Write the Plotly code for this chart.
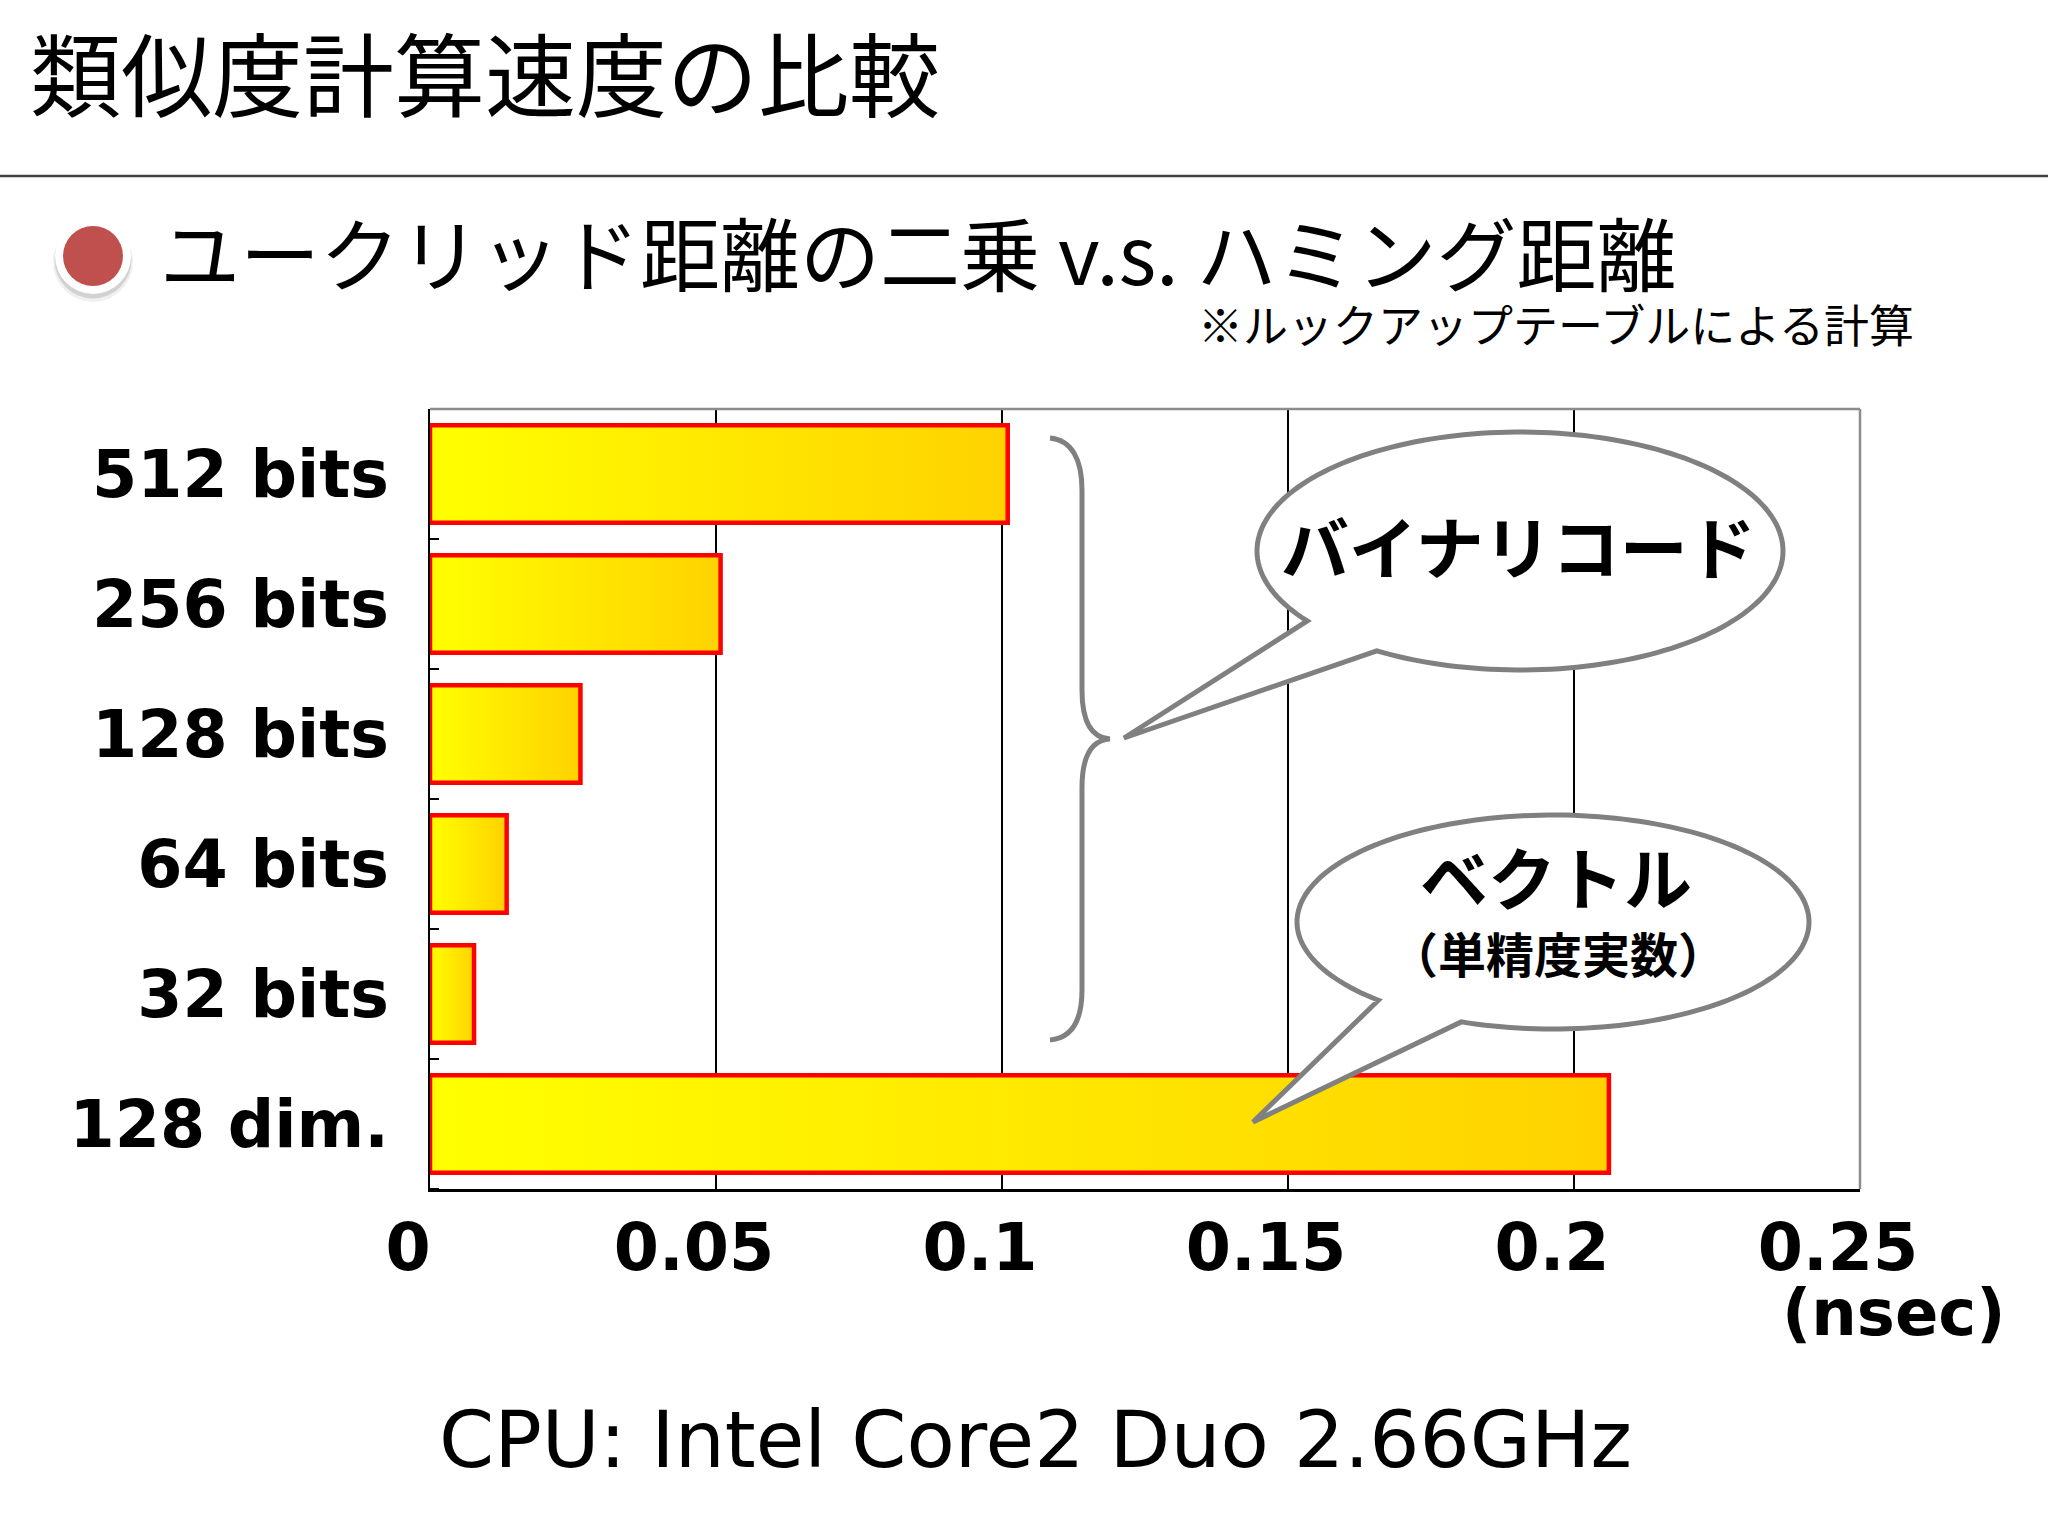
import numpy as np
import plotly.graph_objects as go

# ---------------- data ----------------
categories = ["512 bits", "256 bits", "128 bits", "64 bits", "32 bits", "128 dim."]
times_nsec = [0.101, 0.0508, 0.0263, 0.0134, 0.0077, 0.2061]
x_tick_values = [0, 0.05, 0.1, 0.15, 0.2, 0.25]
x_tick_labels = ["0", "0.05", "0.1", "0.15", "0.2", "0.25"]

title_text = "類似度計算速度の比較"
subtitle_text = "ユークリッド距離の二乗 v.s. ハミング距離"
note_text = "※ルックアップテーブルによる計算"
binary_label = "バイナリコード"
vector_label = "ベクトル"
vector_sub = "（単精度実数）"
unit_label = "(nsec)"
cpu_text = "CPU: Intel Core2 Duo 2.66GHz"

# ---------------- layout geometry ----------------
W, H = 2048, 1536
PL, PT, PW, PH = 430, 409, 1430, 780
BAR_HALF = 0.375
JP = "Noto Sans CJK JP"
LAT = "DejaVu Sans"


def pxx(X):
    return (X - PL) / PW


def pyy(Y):
    return (PT + PH - Y) / PH


def pt(X, Y):
    return f"{pxx(X):.5f},{pyy(Y):.5f}"


def circle(cx, cy, r, **kw):
    return dict(type="circle", xref="paper", yref="paper",
                x0=pxx(cx - r), x1=pxx(cx + r), y0=pyy(cy + r), y1=pyy(cy - r), **kw)


fig = go.Figure()
n = len(categories)
ypos = [n - 1 - i for i in range(n)]
for cat, v, y in zip(categories, times_nsec, ypos):
    fig.add_trace(go.Scatter(
        x=[0, v, v, 0, 0],
        y=[y - BAR_HALF, y - BAR_HALF, y + BAR_HALF, y + BAR_HALF, y - BAR_HALF],
        mode="lines", fill="toself",
        fillgradient=dict(type="horizontal",
                          colorscale=[[0, "#FFFF00"], [1, "#FFD200"]]),
        line=dict(color="#FF0000", width=4.5),
        name=cat, hoverinfo="skip", showlegend=False))

shapes = []
# title underline
shapes.append(dict(type="line", xref="paper", yref="paper",
                   x0=pxx(0), x1=pxx(W), y0=pyy(176), y1=pyy(176),
                   line=dict(color="#404040", width=2.5)))
# bullet: soft shadow, white ring, red disc
shapes.append(circle(93, 262, 40, fillcolor="rgba(0,0,0,0.06)", line=dict(width=0)))
shapes.append(circle(93, 260, 38.5, fillcolor="rgba(0,0,0,0.12)", line=dict(width=0)))
shapes.append(circle(93, 256, 38, fillcolor="white", line=dict(width=0)))
shapes.append(circle(93, 256, 30, fillcolor="#C0504D", line=dict(width=0)))
# top / right plot border (gray)
shapes.append(dict(type="line", xref="paper", yref="paper", x0=0, x1=1, y0=1, y1=1,
                   line=dict(color="#8C8C8C", width=2.5)))
shapes.append(dict(type="line", xref="paper", yref="paper", x0=1, x1=1, y0=0, y1=1,
                   line=dict(color="#8C8C8C", width=2.5)))

# curly brace
brace = (f"M {pt(1050,438)} C {pt(1072,440)} {pt(1082,460)} {pt(1082,490)} "
         f"L {pt(1082,690)} C {pt(1082,722)} {pt(1092,738)} {pt(1110,739)} "
         f"C {pt(1092,740)} {pt(1082,756)} {pt(1082,788)} "
         f"L {pt(1082,990)} C {pt(1082,1020)} {pt(1072,1038)} {pt(1050,1040)}")
shapes.append(dict(type="path", xref="paper", yref="paper", path=brace,
                   line=dict(color="#808080", width=5)))


def bubble_path(cx, cy, rx, ry, t0, t1, tip):
    ts = np.radians(np.linspace(t0, t1, 180))
    pts = [(cx + rx * np.cos(t), cy + ry * np.sin(t)) for t in ts]
    pts.append(tip)
    s = "M " + pt(*pts[0])
    for p in pts[1:]:
        s += " L " + pt(*p)
    return s + " Z"


shapes.append(dict(type="path", xref="paper", yref="paper",
                   path=bubble_path(1520, 551, 263, 119, 144, 483, (1124, 738)),
                   fillcolor="white", line=dict(color="#808080", width=5)))
shapes.append(dict(type="path", xref="paper", yref="paper",
                   path=bubble_path(1553, 922, 256, 107, 133, 471, (1253, 1122)),
                   fillcolor="white", line=dict(color="#808080", width=5)))


def ann(text, X, Y, family, size, weight="normal", xanchor="center"):
    return dict(text=text, x=pxx(X), y=pyy(Y), xref="paper", yref="paper",
                xanchor=xanchor, yanchor="middle", showarrow=False,
                font=dict(family=family, size=size, color="black", weight=weight))


annotations = [
    ann(title_text, 28, 70, JP, 91, xanchor="left"),
    ann(subtitle_text, 158, 250, JP, 80, xanchor="left"),
    ann(note_text, 1196, 324, JP, 45, xanchor="left"),
    ann(binary_label, 1518, 544, JP, 68, "bold"),
    ann(vector_label, 1556, 875, JP, 68, "bold"),
    ann(vector_sub, 1558, 952, JP, 48, "bold"),
    ann(unit_label, 1894, 1313, LAT, 64, "bold"),
    ann(cpu_text, 437, 1440, LAT, 79, xanchor="left"),
]

fig.update_layout(
    width=W, height=H,
    margin=dict(l=PL, r=W - PL - PW, t=PT, b=H - PT - PH, pad=0, autoexpand=False),
    paper_bgcolor="white", plot_bgcolor="white",
    showlegend=False,
    xaxis=dict(range=[0, 0.25], tickvals=x_tick_values, ticktext=x_tick_labels,
               showgrid=True, gridcolor="black", gridwidth=2, zeroline=False,
               showline=True, linecolor="black", linewidth=3, ticks="",
               tickfont=dict(family=LAT, size=65, color="black", weight="bold"),
               ticklabelstandoff=0, ticklabelshift=-22, fixedrange=True),
    yaxis=dict(range=[-0.5, n - 0.5], tickvals=ypos, ticktext=categories,
               showgrid=False, zeroline=False, showline=True, linecolor="black",
               linewidth=2, ticks="",
               tickfont=dict(family=LAT, size=65, color="black", weight="bold"),
               ticklabelstandoff=26, fixedrange=True,
               minor=dict(tickvals=[i + 0.5 for i in range(-1, n)], ticks="inside",
                          ticklen=9, tickwidth=2, tickcolor="black", showgrid=False)),
    shapes=shapes,
    annotations=annotations,
)

fig.write_html("out.html", config={"displayModeBar": False},
               post_script="document.body.style.margin='0';document.body.style.overflow='hidden';")
